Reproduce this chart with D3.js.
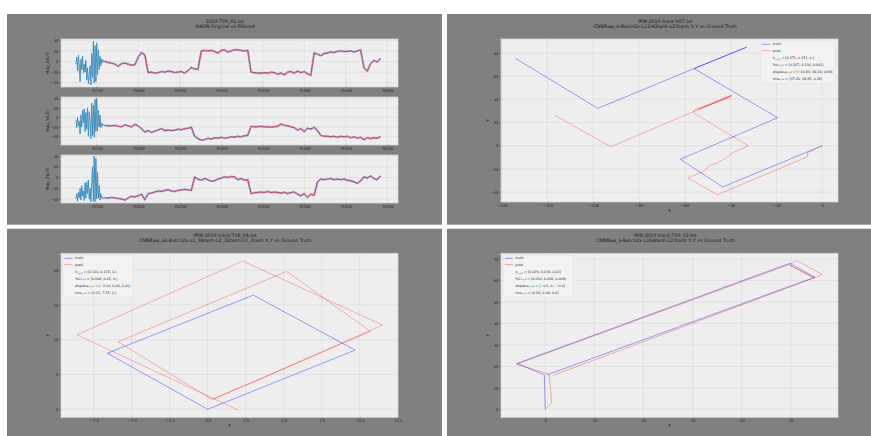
<!DOCTYPE html>
<html>
<head>
<meta charset="utf-8">
<script src="https://cdn.jsdelivr.net/npm/d3@7"></script>
<style>
  body { margin: 0; background: #fff; }
  svg { display: block; }
  text { font-family: "DejaVu Sans", sans-serif; }
</style>
</head>
<body>
<div id="chart"></div>
<script>
// ---- magnetometer data, 2019-T09_01.txt ----
const rawT = d3.range(75125, 75160, 1);   // raw samples before the filter starts
const filtT = d3.range(75160, 75494, 4);  // filtered samples

const noisyX = [-5, 8, -18, 12, -8, -38, 5, -15, 10, -22, -5, -20, 2, -35, -12, -42, -25, -8, -44, 15, -30, 38, -40, 30, -38, 35, -25, 22, -15, 10, -8, 5, -3, 3, 0];
const noisyY = [-5, -22, 0, -18, -8, -35, 5, -20, 15, -12, 18, -30, 10, -25, 20, -40, 12, -10, -45, 30, -38, 25, -42, 38, -30, 40, -28, 15, -20, 5, -22, -12, -18, -15, -17];
const noisyZ = [-40, -30, -44, -28, -38, -20, -42, -15, -35, -25, -43, -10, -38, -8, -30, -5, -40, -20, -45, -10, 20, -44, 40, -45, 35, -40, 10, -38, -15, -42, -30, -38, -36, -40, -38];

const filtX = [0, -2, -3, -5, -9, -4, -3, -5, -7, -6, 8, 17, 12, -21, -20, -22, -21, -19, -20, -18,
  -19, -21, -20, -19, -22, -17, -11, -14, -15, 20, 21, 20, 21, 19, 16, 21, 22, 18, 20, 22,
  22, 21, 20, 21, -20, -21, -22, -22, -21, -22, -20, -21, -24, -22, -25, -20, -19, -22, -18, -21,
  -19, -23, -26, 16, 14, 11, 15, 16, 18, 17, 19, 20, 19, 19, 20, 18, 20, 22, -12, -18,
  -4, 2, -1, 6];
const filtY = [-17, -18, -18, -17, -19, -20, -16, -18, -20, -15, -18, -24, -31, -28, -32, -29, -27, -24, -28, -27,
  -28, -27, -25, -26, -24, -23, -21, -40, -45, -48, -47, -44, -46, -43, -44, -42, -44, -43, -41, -42,
  -40, -41, -39, -38, -19, -20, -20, -19, -20, -20, -21, -20, -19, -14, -17, -18, -20, -22, -27, -24,
  -30, -23, -25, -21, -28, -38, -40, -40, -41, -40, -42, -40, -41, -40, -43, -41, -44, -42, -47, -43,
  -45, -43, -44, -41];
const filtZ = [-38, -38, -37, -38, -39, -40, -42, -38, -35, -36, -34, -31, -41, -30, -29, -27, -25, -26, -24, -23,
  -25, -26, -24, -23, -22, -23, -24, 1, -3, -5, -2, -4, -7, -6, -3, -1, 1, 0, 2, 1,
  -4, -2, -5, -4, -30, -28, -28, -27, -28, -26, -28, -27, -28, -29, -27, -30, -28, -27, -31, -34,
  -30, -37, -31, -33, -8, -3, -4, -3, -2, -4, -3, -4, -3, -5, -6, -8, -11, -6, 1, -1,
  3, -2, -4, 3];

const magTicksX = [75150, 75200, 75250, 75300, 75350, 75400, 75450, 75500];
const magTicksY = [-40, -20, 0, 20, 40];
const magLabels = ["Mag_X(uT)", "Mag_Y(uT)", "Mag_Z(uT)"];

// ---- trajectory data ----
const v07TruthX = [0, -43.5, -62, -19.5, -56, -33, -56, -98, -134];
const v07TruthY = [0, -35.5, -11.7, 24.1, 66.5, 85, 66.5, 32.2, 75.3];
const v07PredX = [0, -6.5, -6.5, -45.8, -58.8, -52, -49, -46, -42.5, -39.6, -32.3, -56, -56, -39.4, -40.6, -54, -40, -92.4, -116.7];
const v07PredY = [0, -6, -9.5, -42.2, -27.8, -22.3, -17, -15, -11, -6.6, 0, 28, 30.8, 43.7, 41.5, 31.5, 43, -0.9, 26.2];

const t08TruthX = [0, -6.6, 3.0, 9.7, 0];
const t08TruthY = [0, 8.05, 16.4, 8.5, 0];
const t08PredX = [0.4, 10.7, 5.2, -5.9, 0.3, 2.4, 2.7, 11.5, 2.3, -8.6, 2.0];
const t08PredY = [1.5, 11.2, 19.8, 9.7, 1.4, 3.4, 3.6, 12.1, 21.3, 10.7, -0.1];

const t09TruthX = [0, -0.2, -5.7, 49.8, 54.9, 0.3];
const t09TruthY = [0, 16, 21.4, 68, 61.5, 16];
const t09PredX = [0, 1.3, 0.8, -5.9, 49.6, 51.3, 56.4, 54.7, 49.7, 54.7, 1.5];
const t09PredY = [0, 3, 16.3, 21.0, 67.4, 69.2, 62.8, 61.2, 67.2, 61.2, 15.7];

const statNames = ["lr", "%lr", "displace", "rms"];
const v07Stats = ["0.171, 0.151, 0.", "0.107, 0.136, 0.002", "\u221216.83, 69.28, 0.94", "37.20, 18.85, 0.28"];
const t08Stats = ["0.110, 0.115, 0.", "0.008, 0.05, 0.", "\u22122.00, 0.00, 0.01", "2.21, 7.25, 0."];
const t09Stats = ["0.029, 0.034, 0.02", "0.030, 0.018, 0.009", "\u22120.1, 0., \u22120.0", "0.93, 0.44, 0.0"];

const v07Ticks = { x: [-140, -120, -100, -80, -60, -40, -20, 0], y: [-40, -20, 0, 20, 40, 60, 80] };
const t08Ticks = { x: [-7.5, -5, -2.5, 0, 2.5, 5, 7.5, 10, 12.5], y: [0, 5, 10, 15, 20] };
const t09Ticks = { x: [0, 10, 20, 30, 40, 50], y: [0, 10, 20, 30, 40, 50, 60, 70] };

// ---- drawing ----
const W = 871, H = 436;
const svg = d3.select("#chart").append("svg").attr("width", W).attr("height", H);

const panels = [
  { x: 7, y: 14, w: 435, h: 210.7 },
  { x: 447, y: 14, w: 424, h: 210.7 },
  { x: 7, y: 228.7, w: 435, h: 207.3 },
  { x: 447, y: 228.7, w: 424, h: 207.3 }
];
svg.selectAll("rect.panel").data(panels).enter().append("rect")
  .attr("class", "panel")
  .attr("x", d => d.x).attr("y", d => d.y)
  .attr("width", d => d.w).attr("height", d => d.h)
  .attr("fill", "#808080");

function titles(cx, y, lines) {
  lines.forEach((s, i) => {
    svg.append("text").attr("x", cx).attr("y", y + i * 5.8)
      .attr("text-anchor", "middle").attr("font-size", "4.7px").attr("fill", "#1a1a1a")
      .text(s);
  });
}

// background, grid, ticks for one axes box
function axesBox(box, x, y, xt, yt, xfmt, yfmt) {
  const g = svg.append("g");
  g.append("rect").attr("x", box.l).attr("y", box.t)
    .attr("width", box.r - box.l).attr("height", box.b - box.t)
    .attr("fill", "#eeeeee").attr("stroke", "#d8d8d8").attr("stroke-width", 0.7);
  g.selectAll("line.gx").data(xt).enter().append("line")
    .attr("x1", d => x(d)).attr("x2", d => x(d)).attr("y1", box.t).attr("y2", box.b)
    .attr("stroke", "#d4d4d4").attr("stroke-width", 0.5);
  g.selectAll("line.gy").data(yt).enter().append("line")
    .attr("y1", d => y(d)).attr("y2", d => y(d)).attr("x1", box.l).attr("x2", box.r)
    .attr("stroke", "#d4d4d4").attr("stroke-width", 0.5);

  const ax = g.append("g").attr("transform", "translate(0," + box.b + ")")
    .call(d3.axisBottom(x).tickValues(xt).tickFormat(xfmt).tickSize(1.3).tickPadding(1.2));
  const ay = g.append("g").attr("transform", "translate(" + box.l + ",0)")
    .call(d3.axisLeft(y).tickValues(yt).tickFormat(yfmt).tickSize(1.3).tickPadding(1.2));
  [ax, ay].forEach(a => {
    a.select(".domain").remove();
    a.selectAll("line").attr("stroke", "#444").attr("stroke-width", 0.4);
    a.selectAll("text").attr("font-size", "3.8px").attr("fill", "#222")
      .attr("font-family", "DejaVu Sans");
  });
  return g;
}

// ---- panel 1: MAGN original vs filtered ----
titles(225, 22.5, ["2019-T09_01.txt", "MAGN Original vs Filtered"]);

const magX = d3.scaleLinear().domain([75107, 75513]).range([61, 398]);
const magBoxes = [
  { l: 61, r: 398, t: 39, b: 87, dom: [-48.1, 42.5] },
  { l: 61, r: 398, t: 97, b: 145, dom: [-58.3, 42.7] },
  { l: 61, r: 398, t: 155, b: 203, dom: [-47.4, 41.9] }
];
const noisy = [noisyX, noisyY, noisyZ];
const filt = [filtX, filtY, filtZ];
const rawTime = rawT.concat(filtT);

magBoxes.forEach((box, k) => {
  const y = d3.scaleLinear().domain(box.dom).range([box.b, box.t]);
  const g = axesBox(box, magX, y, magTicksX, magTicksY, d3.format("d"), d3.format("d"));
  const raw = noisy[k].concat(filt[k]);
  const line = d3.line().x((d, i) => magX(rawTime[i])).y(d => y(d));
  const fline = d3.line().x((d, i) => magX(filtT[i])).y(d => y(d));
  g.append("path").datum(raw).attr("d", line)
    .attr("fill", "none").attr("stroke", "#348ABD").attr("stroke-width", 0.9);
  g.append("path").datum(filt[k]).attr("d", fline)
    .attr("fill", "none").attr("stroke", "#aea6d0").attr("stroke-width", 2);
  g.append("path").datum(filt[k]).attr("d", fline)
    .attr("fill", "none").attr("stroke", "#c8163c").attr("stroke-width", 0.9)
    .attr("stroke-dasharray", "1.6 0.6");
  svg.append("text")
    .attr("transform", "translate(49," + ((box.t + box.b) / 2) + ") rotate(-90)")
    .attr("text-anchor", "middle").attr("font-size", "4.2px").attr("fill", "#1a1a1a")
    .text(magLabels[k]);
});

// ---- trajectory panels ----
function legend(lx, ly, w, stats) {
  const g = svg.append("g");
  g.append("rect").attr("x", lx).attr("y", ly).attr("width", w).attr("height", 42.3)
    .attr("fill", "#f2f2f2").attr("stroke", "#dcdcdc").attr("stroke-width", 0.4).attr("rx", 0.8);
  const rows = [3.3, 9.6, 16.6, 23.4, 30.4, 37.4];
  [["truth", "#8585f5"], ["pred", "#f49a9a"]].forEach((d, i) => {
    g.append("line").attr("x1", lx + 1.5).attr("x2", lx + 9.5)
      .attr("y1", ly + rows[i]).attr("y2", ly + rows[i])
      .attr("stroke", d[1]).attr("stroke-width", 0.9);
    g.append("text").attr("x", lx + 12).attr("y", ly + rows[i] + 1.1)
      .attr("font-family", "Liberation Serif").attr("font-size", "3.4px").attr("fill", "#222")
      .text(d[0]);
  });
  statNames.forEach((n, i) => {
    const t = g.append("text").attr("x", lx + 12).attr("y", ly + rows[i + 2] + 1.1)
      .attr("font-family", "Liberation Serif").attr("font-size", "3.3px").attr("fill", "#222");
    t.append("tspan").text(n);
    t.append("tspan").attr("dy", 0.8).attr("font-size", "2.3px").text("x,y,z");
    t.append("tspan").attr("dy", -0.8).text(" = [" + stats[i] + "]");
  });
}

function trackPanel(p, box, xd, yd, ticks, fmt, tx, ty, px, py, lines, stats, legendX) {
  const x = d3.scaleLinear().domain(xd).range([box.l, box.r]);
  const y = d3.scaleLinear().domain(yd).range([box.b, box.t]);
  titles(p.cx, p.ty, lines);
  const g = axesBox(box, x, y, ticks.x, ticks.y, fmt, d3.format("d"));
  const line = d3.line().x(d => x(d[0])).y(d => y(d[1]));
  g.append("path").datum(d3.zip(tx, ty)).attr("d", line)
    .attr("fill", "none").attr("stroke", "blue").attr("stroke-opacity", 0.42).attr("stroke-width", 0.9);
  g.append("path").datum(d3.zip(px, py)).attr("d", line)
    .attr("fill", "none").attr("stroke", "red").attr("stroke-opacity", 0.33).attr("stroke-width", 0.9);
  svg.append("text").attr("x", (box.l + box.r) / 2).attr("y", box.b + 10)
    .attr("text-anchor", "middle").attr("font-size", "4.2px").attr("fill", "#1a1a1a").text("X");
  svg.append("text").attr("transform", "translate(" + (box.l - 12) + "," + ((box.t + box.b) / 2) + ") rotate(-90)")
    .attr("text-anchor", "middle").attr("font-size", "4.2px").attr("fill", "#1a1a1a").text("Y");
  legend(legendX, box.t + (box.t < 100 ? 2 : 1.7), box.t < 100 ? 74.3 : 70, stats);
}

trackPanel({ cx: 665.3, ty: 22.5 }, { l: 501, r: 838, t: 39, b: 202 },
  [-140.3, 6.85], [-48.5, 92], v07Ticks, d3.format("d"),
  v07TruthX, v07TruthY, v07PredX, v07PredY,
  ["IPIN:2019 track:V07.txt", "CNNRaw_a-Batch2x-L11l42tanh-L23tanh  X,Y vs Ground Truth"],
  v07Stats, 760.7);

trackPanel({ cx: 225.3, ty: 236.5 }, { l: 61, r: 398, t: 253.3, b: 417.3 },
  [-9.65, 12.52], [-1.15, 22.41], t08Ticks, d3.format(".1f"),
  t08TruthX, t08TruthY, t08PredX, t08PredY,
  ["IPIN:2019 track:T08_04.txt", "CNNRaw_a2-Batch2x-L1_96tanh-L2_32tanh-L3_3tanh  X,Y vs Ground Truth"],
  t08Stats, 63);

trackPanel({ cx: 665.3, ty: 236.5 }, { l: 501, r: 838, t: 253.3, b: 417.3 },
  [-9.02, 59.6], [-3.73, 72.66], t09Ticks, d3.format("d"),
  t09TruthX, t09TruthY, t09PredX, t09PredY,
  ["IPIN:2019 track:T09_02.txt", "CNNRaw_a-Batch2x-L164tanh-L23tanh  X,Y vs Ground Truth"],
  t09Stats, 503.3);
</script>
</body>
</html>
